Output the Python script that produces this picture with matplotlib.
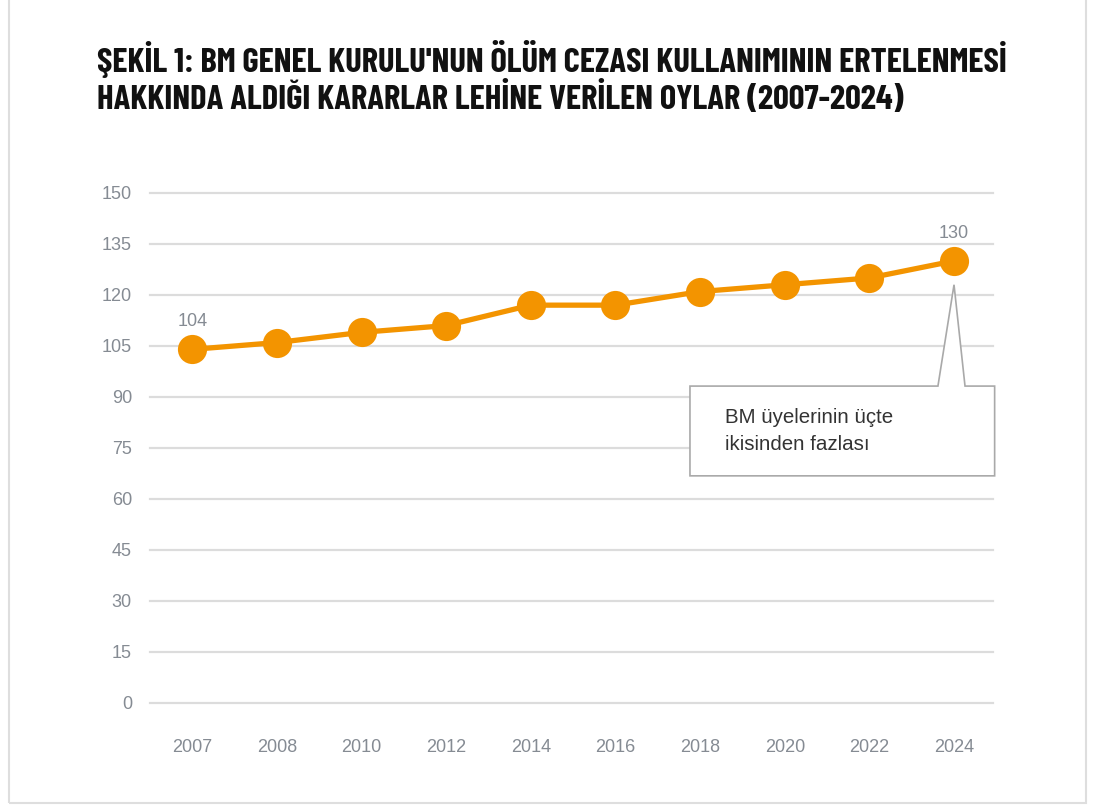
import matplotlib
matplotlib.use("Agg")
import matplotlib.pyplot as plt
from matplotlib import font_manager as fm
from matplotlib.patches import Polygon, Rectangle

# votes in favour of the UNGA moratorium resolutions
years = ["2007", "2008", "2010", "2012", "2014", "2016", "2018", "2020", "2022", "2024"]
votes = [104, 106, 109, 111, 117, 117, 121, 123, 125, 130]
yticks = [0, 15, 30, 45, 60, 75, 90, 105, 120, 135, 150]

title = ("ŞEKİL 1: BM GENEL KURULU'NUN ÖLÜM CEZASI KULLANIMININ ERTELENMESİ\n"
         "HAKKINDA ALDIĞI KARARLAR LEHİNE VERİLEN OYLAR (2007-2024)")
callout = "BM üyelerinin üçte\nikisinden fazlası"

orange = "#F39400"
grey_txt = "#858b93"

# pick a condensed bold face for the title if one is around
have = {f.name for f in fm.fontManager.ttflist}
title_font = "DejaVu Sans"
for name in ["Barlow Condensed", "Roboto Condensed", "Archivo Narrow",
             "PT Sans Narrow", "Fjalla One", "Oswald", "Liberation Sans Narrow"]:
    if name in have:
        title_font = name
        break

fig = plt.figure(figsize=(10.95, 8.07), dpi=100)
ax = fig.add_axes([0.137, 0.1289, 0.7698, 0.632])

x = list(range(len(years)))
ax.plot(x, votes, color=orange, lw=3.8, marker="o", ms=21,
        markeredgewidth=0, zorder=4, clip_on=False)

ax.set_ylim(0, 150)
ax.set_xlim(-0.5, 9.46)
ax.set_yticks(yticks)
ax.set_xticks(x)
ax.set_xticklabels(years)
ax.grid(axis="y", color="#dcdcdc", lw=1.6)
for gl in ax.get_ygridlines():
    gl.set_clip_on(False)
ax.set_axisbelow(True)
for s in ax.spines.values():
    s.set_visible(False)
ax.tick_params(length=0, labelsize=13, labelcolor=grey_txt)
ax.tick_params(axis="y", pad=13)
ax.tick_params(axis="x", pad=26)
for lab in ax.get_xticklabels() + ax.get_yticklabels():
    lab.set_family(["Liberation Sans", "DejaVu Sans"])

# value labels on first and last points
for i in (0, len(votes) - 1):
    ax.annotate(str(votes[i]), (x[i], votes[i]), xytext=(0, 14),
                textcoords="offset points", ha="center", va="bottom",
                fontsize=13, color=grey_txt, family="Liberation Sans")

# callout box with pointer to the 2024 point
tip_x, tip_y = x[-1], votes[-1] - 7
bx0, bx1, by0, by1 = 5.88, 9.48, 66.8, 93.2
poly = Polygon([(bx0, by1), (tip_x - 0.19, by1), (tip_x, tip_y),
                (tip_x + 0.13, by1), (bx1, by1), (bx1, by0), (bx0, by0)],
               closed=True, facecolor="white", edgecolor="#a9a9a9", lw=1.2,
               zorder=3, clip_on=False)
ax.add_patch(poly)
ax.text(bx0 + 0.41, (by0 + by1) / 2, callout, ha="left", va="center",
        fontsize=14.8, color="#333333", linespacing=1.55, zorder=5,
        family="Liberation Sans")

t = fig.text(0.089, 0.95, title, ha="left", va="top", fontsize=22,
             family=[title_font, "DejaVu Sans"], weight="bold", color="#111111",
             linespacing=1.1)
# fit title to the reference block (about 913 x 76 px)
r = fig.canvas.get_renderer()
bb = t.get_window_extent(r)
t.set_fontsize(22 * min(913 / bb.width, 77 / bb.height))

# light frame round the whole graphic
fig.patches.append(Rectangle((0.008, 0.005), 0.984, 1.0, transform=fig.transFigure,
                             fill=False, edgecolor="#dedede", lw=1.5))

fig.savefig("out.png", dpi=100, facecolor="white")
